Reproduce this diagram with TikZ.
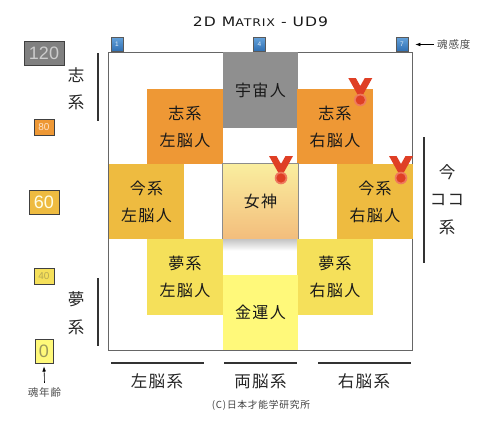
\documentclass[tikz,border=0pt]{standalone}
\usepackage{fontspec}
\setmainfont{Liberation Sans}
\newfontfamily\cjk[LetterSpace=8]{Noto Sans CJK JP}
\newfontfamily\titlefont[LetterSpace=8, FakeStretch=1.2]{DejaVu Sans}
\usepackage{xcolor}
\usepackage{tikz}
\usetikzlibrary{arrows.meta, positioning}

\definecolor{cellgray}{HTML}{8F8F8F}
\definecolor{cellorange}{HTML}{EE9835}
\definecolor{cellamber}{HTML}{EEBB40}
\definecolor{celldream}{HTML}{F5E05A}
\definecolor{cellluck}{HTML}{FFF97A}
\definecolor{goddesstop}{HTML}{FAEE9F}
\definecolor{goddessbottom}{HTML}{F3BD7C}
\definecolor{soultop}{HTML}{62A0DA}
\definecolor{soulbottom}{HTML}{2F6FB2}
\definecolor{medalred}{HTML}{DF3F25}
\definecolor{medalring}{HTML}{EE7A5E}

\begin{document}
\begin{tikzpicture}[
    x=1pt, y=-1pt,
    cell/.style={rectangle, minimum width=75.5pt, minimum height=75.5pt, inner sep=0pt, align=center, font=\cjk\fontsize{16}{27}\selectfont, text=black!90},
    age/.style={rectangle, draw=black!75, line width=0.8pt, inner sep=0pt, align=center},
    soul/.style={rectangle, draw=black!65, line width=0.6pt, minimum width=12pt, minimum height=13.5pt, inner sep=0pt, top color=soultop, bottom color=soulbottom, text=white!80!soultop, font=\fontsize{6.5}{7}\selectfont},
    side/.style={font=\cjk\fontsize{16.5}{27.5}\selectfont, text=black!85, align=center, inner sep=0pt},
    note/.style={font=\cjk\fontsize{10.5}{12}\selectfont, text=black!70, inner sep=0pt},
    bar/.style={draw=black!80, line width=1.1pt},
    pointer/.style={draw=black, line width=0.6pt, -{Latex[length=1.8mm, width=1.3mm]}},
    medal/.pic={
        \fill[medalred] (-12,-22) -- (-4.5,-22) -- (0,-14) -- (4.5,-22) -- (12,-22) -- (2.5,-5) -- (-2.5,-5) -- cycle;
        \fill[medalring] (0,0) circle (6.3);
        \fill[medalred] (0,0) circle (4.6);
    }
]
    \useasboundingbox (0,0) rectangle (480,421);

    \node[font=\titlefont\fontsize{13}{15}\selectfont, inner sep=0pt, text=black!90] (title) at (260.5,22) {2D M{\fontsize{10.5}{15}\selectfont ATRIX} - UD9};

    % Frame
    \draw[draw=black!60, line width=1pt] (108.5,52.5) rectangle (412.7,350);

    % Cells
    \node[cell, fill=cellgray] (space) at (260.5,90) {宇宙人};
    \node[cell, fill=cellorange] (will_left) at (185,126.5) {志系\\左脳人};
    \node[cell, fill=cellorange] (will_right) at (335,126.5) {志系\\右脳人};
    \node[cell, fill=cellamber] (now_left) at (146.5,201.5) {今系\\左脳人};
    \node[cell, fill=cellamber] (now_right) at (375,201.5) {今系\\右脳人};
    \node[cell, draw=black!45, line width=0.8pt, top color=goddesstop, bottom color=goddessbottom] (goddess) at (260.5,201.5) {女神};
    \shade[top color=black!22, bottom color=white] (goddess.south west) rectangle ([yshift=-11pt]goddess.south east);
    \node[cell, fill=celldream] (dream_left) at (185,277) {夢系\\左脳人};
    \node[cell, fill=celldream] (dream_right) at (335,277) {夢系\\右脳人};
    \node[cell, fill=cellluck] (luck) at (260.5,312.5) {金運人};

    % Medals
    \pic at (360.3,100) {medal};
    \pic at (281,178) {medal};
    \pic at (401,178) {medal};

    % Soul sense markers
    \node[soul] (sense_one) at (117,44.5) {1};
    \node[soul] (sense_four) at (259.5,44.5) {4};
    \node[soul] (sense_seven) at (402,44.5) {7};
    \node[note, anchor=west] (sense_label) at (437,44.5) {魂感度};

    % Soul age scale
    \node[age, fill=black!50, text=white!80!black, minimum width=40pt, minimum height=24pt, font=\fontsize{18}{20}\selectfont] (age_top) at (44,53) {120};
    \node[age, fill=cellorange, text=white!80!orange, minimum width=20pt, minimum height=16pt, font=\fontsize{10}{12}\selectfont] (age_eighty) at (44,127) {80};
    \node[age, fill=cellamber, text=white!90!yellow, minimum width=30pt, minimum height=24pt, font=\fontsize{18}{20}\selectfont] (age_sixty) at (44,202) {60};
    \node[age, fill=celldream, text=black!20!celldream!80!gray, minimum width=20pt, minimum height=16pt, font=\fontsize{10}{12}\selectfont] (age_forty) at (44,276.5) {40};
    \node[age, fill=cellluck, text=black!35!cellluck!75!gray, minimum width=18pt, minimum height=24pt, font=\fontsize{18}{20}\selectfont] (age_zero) at (44,351) {0};
    \node[note] (age_label) at (44.5,393) {魂年齢};

    % Side labels
    \node[side] (will_side) at (76,88.5) {志\\系};
    \node[side] (dream_side) at (76,313) {夢\\系};
    \node[side] (now_side) at (447,199.5) {今\\ココ\\系};
    \node[side] (left_side) at (157,381) {左脳系};
    \node[side] (both_side) at (260.5,381) {両脳系};
    \node[side] (right_side) at (364,381) {右脳系};
    \node[font=\cjk\fontsize{9.7}{12}\selectfont, text=black!75, inner sep=0pt] (credit) at (261,405.5) {(C)日本才能学研究所};

    % Bars
    \draw[bar] (98,53) -- (98,121);
    \draw[bar] (98,278) -- (98,346);
    \draw[bar] (424,137) -- (424,263);
    \draw[bar] (111,363) -- (204,363);
    \draw[bar] (224,363) -- (297,363);
    \draw[bar] (318,363) -- (411,363);

    % Connectors
    \draw[pointer] ([xshift=-3pt]sense_label.west) -- ([xshift=7pt]sense_seven.east);
    \draw[pointer] ([yshift=5pt]age_label.north) -- ([yshift=-3pt]age_zero.south);
\end{tikzpicture}
\end{document}
